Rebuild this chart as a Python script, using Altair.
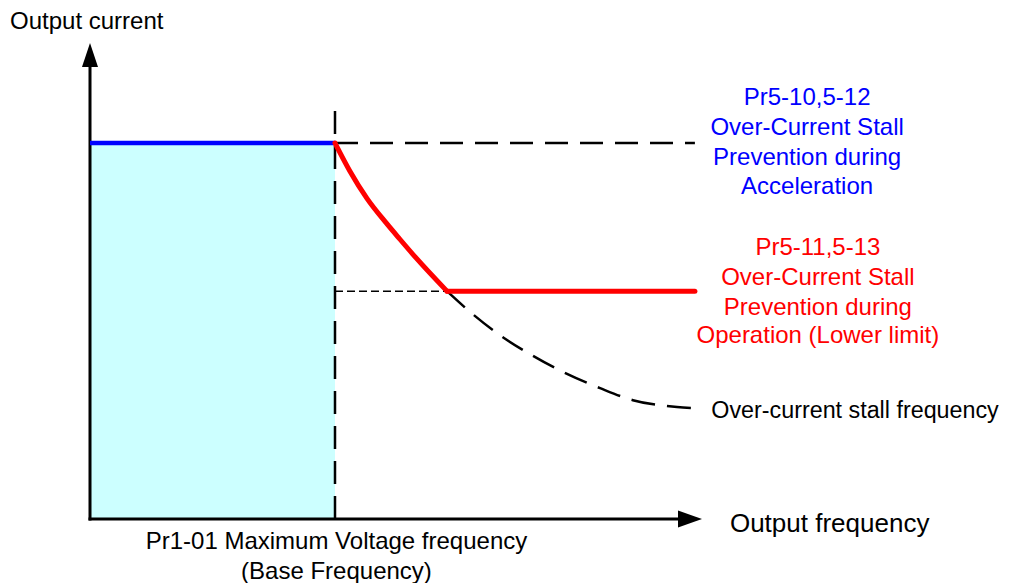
import altair as alt
import pandas as pd

# ---- data (units: frequency in % of base frequency, current in % of accel stall level)
X_DOMAIN = [-33.47, 373.88]
Y_DOMAIN = [-17.02, 135.90]

base_freq = 100
accel_level = 100
lower_limit = 60.6
axis_x_end = 240.0
axis_y_end = 120.2
vline_top = 110.1
line_right_end = 246.9

red_curve_f = [100, 106.1, 113.1, 120.8, 126.5, 133.0, 145.7]
red_curve_c = [100, 92.5, 85.2, 78.8, 74.4, 69.5, 60.6]

stall_curve_f = [145.7, 155.1, 167.3, 180.8, 194.7, 208.2, 221.6, 239.6, 246.1]
stall_curve_c = [60.6, 55.1, 48.9, 43.4, 38.6, 34.8, 31.6, 29.8, 29.5]

blue_lines = ["Pr5-10,5-12", "Over-Current Stall", "Prevention during", "Acceleration"]
blue_f = 292.7
blue_c = [111.9, 103.9, 96.0, 88.4]

red_lines = ["Pr5-11,5-13", "Over-Current Stall", "Prevention during", "Operation (Lower limit)"]
red_f = 297.1
red_c = [72.0, 64.1, 56.1, 48.6]

bottom_lines = ["Pr1-01 Maximum Voltage frequency", "(Base Frequency)"]
bottom_f = 100.6
bottom_c = [-6.2, -14.2]

FONT = "Liberation Sans"

xs = alt.Scale(domain=X_DOMAIN, nice=False, zero=False)
ys = alt.Scale(domain=Y_DOMAIN, nice=False, zero=False)


def X(field="f"):
    return alt.X(f"{field}:Q", scale=xs, axis=None)


def Y(field="c"):
    return alt.Y(f"{field}:Q", scale=ys, axis=None)


rect = alt.Chart(pd.DataFrame({"f": [0], "f2": [base_freq], "c": [0], "c2": [accel_level]})).mark_rect(
    color="#CCFFFF", opacity=1
).encode(x=X(), x2="f2:Q", y=Y(), y2="c2:Q")

# axes
x_axis = alt.Chart(pd.DataFrame({"f": [0], "f2": [axis_x_end], "c": [0]})).mark_rule(
    color="black", strokeWidth=3, strokeCap="square"
).encode(x=X(), x2="f2:Q", y=Y())
y_axis = alt.Chart(pd.DataFrame({"f": [0], "c": [0], "c2": [axis_y_end]})).mark_rule(
    color="black", strokeWidth=3, strokeCap="square"
).encode(x=X(), y=Y(), y2="c2:Q")

y_arrow = alt.Chart(pd.DataFrame({"f": [0], "c": [123.4]})).mark_point(
    shape="M0,-1L0.667,1L-0.667,1Z", size=576, filled=True, color="black", opacity=1, strokeWidth=0
).encode(x=X(), y=Y())
x_arrow = alt.Chart(pd.DataFrame({"f": [244.9], "c": [0]})).mark_point(
    shape="M1,0L-1,-0.708L-1,0.708Z", size=576, filled=True, color="black", opacity=1, strokeWidth=0
).encode(x=X(), y=Y())

# dashed guides
vdash = alt.Chart(pd.DataFrame({"f": [base_freq], "c": [0], "c2": [vline_top]})).mark_rule(
    color="black", strokeWidth=2.5, strokeDash=[23, 12]
).encode(x=X(), y=Y(), y2="c2:Q")
hdash = alt.Chart(pd.DataFrame({"f": [base_freq], "f2": [line_right_end], "c": [accel_level]})).mark_rule(
    color="black", strokeWidth=2.5, strokeDash=[23, 12]
).encode(x=X(), x2="f2:Q", y=Y())
lowdash = alt.Chart(pd.DataFrame({"f": [base_freq], "f2": [red_curve_f[-1]], "c": [lower_limit]})).mark_rule(
    color="black", strokeWidth=1.5, strokeDash=[8, 4]
).encode(x=X(), x2="f2:Q", y=Y())

stall = alt.Chart(pd.DataFrame({"f": stall_curve_f, "c": stall_curve_c})).mark_line(
    color="black", strokeWidth=2.5, strokeDash=[24, 12], interpolate="monotone"
).encode(x=X(), y=Y())

# blue acceleration level
blue = alt.Chart(pd.DataFrame({"f": [0], "f2": [base_freq], "c": [accel_level]})).mark_rule(
    color="#0000FF", strokeWidth=4.5
).encode(x=X(), x2="f2:Q", y=Y())

# red curve and lower limit
red_curve = alt.Chart(pd.DataFrame({"f": red_curve_f, "c": red_curve_c})).mark_line(
    color="#FF0000", strokeWidth=5, interpolate="monotone", strokeCap="round"
).encode(x=X(), y=Y())
red_flat = alt.Chart(pd.DataFrame({"f": [red_curve_f[-1]], "f2": [line_right_end], "c": [lower_limit]})).mark_rule(
    color="#FF0000", strokeWidth=5, strokeCap="round"
).encode(x=X(), x2="f2:Q", y=Y())


def text_layer(texts, fs, cs, color, size, align):
    df = pd.DataFrame({"t": texts, "f": fs, "c": cs})
    return alt.Chart(df).mark_text(
        font=FONT, fontSize=size, color=color, align=align, baseline="middle"
    ).encode(x=X(), y=Y(), text="t:N")


t_ycap = text_layer(["Output current"], [-32.65], [132.3], "black", 24, "left")
t_blue = text_layer(blue_lines, [blue_f] * 4, blue_c, "#0000FF", 24, "center")
t_red = text_layer(red_lines, [red_f] * 4, red_c, "#FF0000", 24, "center")
t_stall = text_layer(["Over-current stall frequency"], [253.6], [28.8], "black", 23.3, "left")
t_xcap = text_layer(["Output frequency"], [261.2], [-1.33], "black", 26, "left")
t_bottom = text_layer(bottom_lines, [bottom_f] * 2, bottom_c, "black", 24, "center")

chart = alt.layer(
    rect, vdash, hdash, lowdash, stall, x_axis, y_axis, y_arrow, x_arrow, blue, red_curve, red_flat,
    t_ycap, t_blue, t_red, t_stall, t_xcap, t_bottom,
).properties(
    width=998, height=575, padding=0, autosize=alt.AutoSizeParams(type="none"),
    background="white",
).configure_view(stroke=None)

chart.save("out.html", embed_options={"renderer": "svg", "actions": False})
